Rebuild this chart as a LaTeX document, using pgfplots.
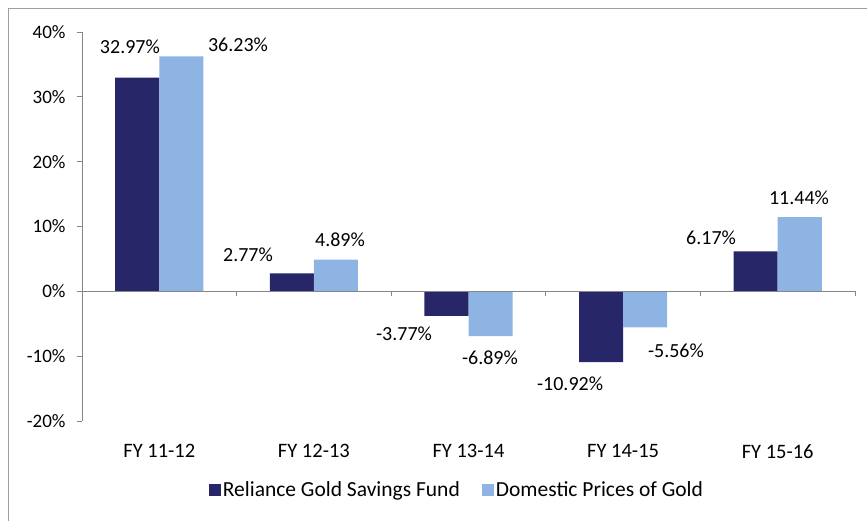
\documentclass[border=0pt]{standalone}
\usepackage{pgfplots}
\pgfplotsset{compat=1.18}
\usepackage{fontspec}
\setmainfont{Carlito}
\definecolor{navy}{HTML}{262669}
\definecolor{lblue}{HTML}{8EB4E3}
\definecolor{axgray}{HTML}{868686}
\begin{document}
\begin{tikzpicture}[x=1pt,y=1pt]
\useasboundingbox (0,0) rectangle (867,520);
\draw[axgray!80, line width=1pt] (8,-20) -- (8,511) -- (900,511);
\begin{axis}[
  at={(82pt,99pt)}, anchor=south west,
  scale only axis, width=773pt, height=389pt,
  xmin=-0.5, xmax=4.5, ymin=-20, ymax=40,
  ytick={-20,-10,0,10,20,30,40},
  yticklabel={\pgfmathprintnumber{\tick}\%},
  /pgf/number format/assume math mode=true,
  xtick={0,1,2,3,4},
  xticklabels={FY 11-12, FY 12-13, FY 13-14, FY 14-15, FY 15-16},
  x tick style={draw=none},
  y tick style={axgray, line width=0.8pt},
  major tick length=5pt,
  tick align=outside,
  axis x line*=bottom,
  x axis line style={draw=none},
  axis y line*=left,
  y axis line style={axgray, line width=0.8pt, -},
  yticklabel style={xshift=-8pt, font=\fontsize{19}{22}\selectfont, text=black},
  xticklabel style={yshift=-15pt, font=\fontsize{20.5}{22}\selectfont, text=black},
  legend style={at={(0.485,-0.177)}, anchor=center, draw=none, fill=none,
    legend columns=2, font=\fontsize{21.5}{24}\selectfont,
    /tikz/every even column/.append style={column sep=20pt}},
  legend cell align=left,
  clip=false,
]
\addplot[ybar, bar width=0.285, bar shift=-0.1425, fill=navy, draw=none,
  legend image code/.code={\fill[navy] (0pt,-6pt) rectangle (12pt,6pt);}]
  coordinates {(0,32.97) (1,2.77) (2,-3.77) (3,-10.92) (4,6.17)};
\addlegendentry{Reliance Gold Savings Fund}
\addplot[ybar, bar width=0.285, bar shift=0.1425, fill=lblue, draw=none,
  legend image code/.code={\fill[lblue] (0pt,-6pt) rectangle (12pt,6pt);}]
  coordinates {(0,36.23) (1,4.89) (2,-6.89) (3,-5.56) (4,11.44)};
\addlegendentry{Domestic Prices of Gold}
\draw[axgray, line width=0.8pt] (axis cs:-0.5,0) -- (axis cs:4.5,0);
\draw[axgray, line width=0.8pt] (axis cs:0.5,0) -- ++(0pt,-5pt);
\draw[axgray, line width=0.8pt] (axis cs:1.5,0) -- ++(0pt,-5pt);
\draw[axgray, line width=0.8pt] (axis cs:2.5,0) -- ++(0pt,-5pt);
\draw[axgray, line width=0.8pt] (axis cs:3.5,0) -- ++(0pt,-5pt);
\draw[axgray, line width=0.8pt] (axis cs:4.5,0) -- ++(0pt,-5pt);
\addplot[draw=none, mark=none, forget plot,
  point meta=explicit,
  nodes near coords={\pgfmathprintnumber[fixed,precision=2,fixed zerofill,assume math mode=true]{\pgfplotspointmeta}\%},
  every node near coord/.append style={anchor=center, font=\fontsize{20}{22}\selectfont, text=black}]
  table[meta=v] {
  x y v
  -0.19 37.65 32.97
  0.509 38.1 36.23
  0.574 5.7 2.77
  1.169 7.9 4.89
  1.583 -6.6 -3.77
  2.139 -10.2 -6.89
  2.657 -14.2 -10.92
  3.342 -9.1 -5.56
  3.569 8.3 6.17
  4.138 14.5 11.44
  };
\end{axis}
\end{tikzpicture}
\end{document}
